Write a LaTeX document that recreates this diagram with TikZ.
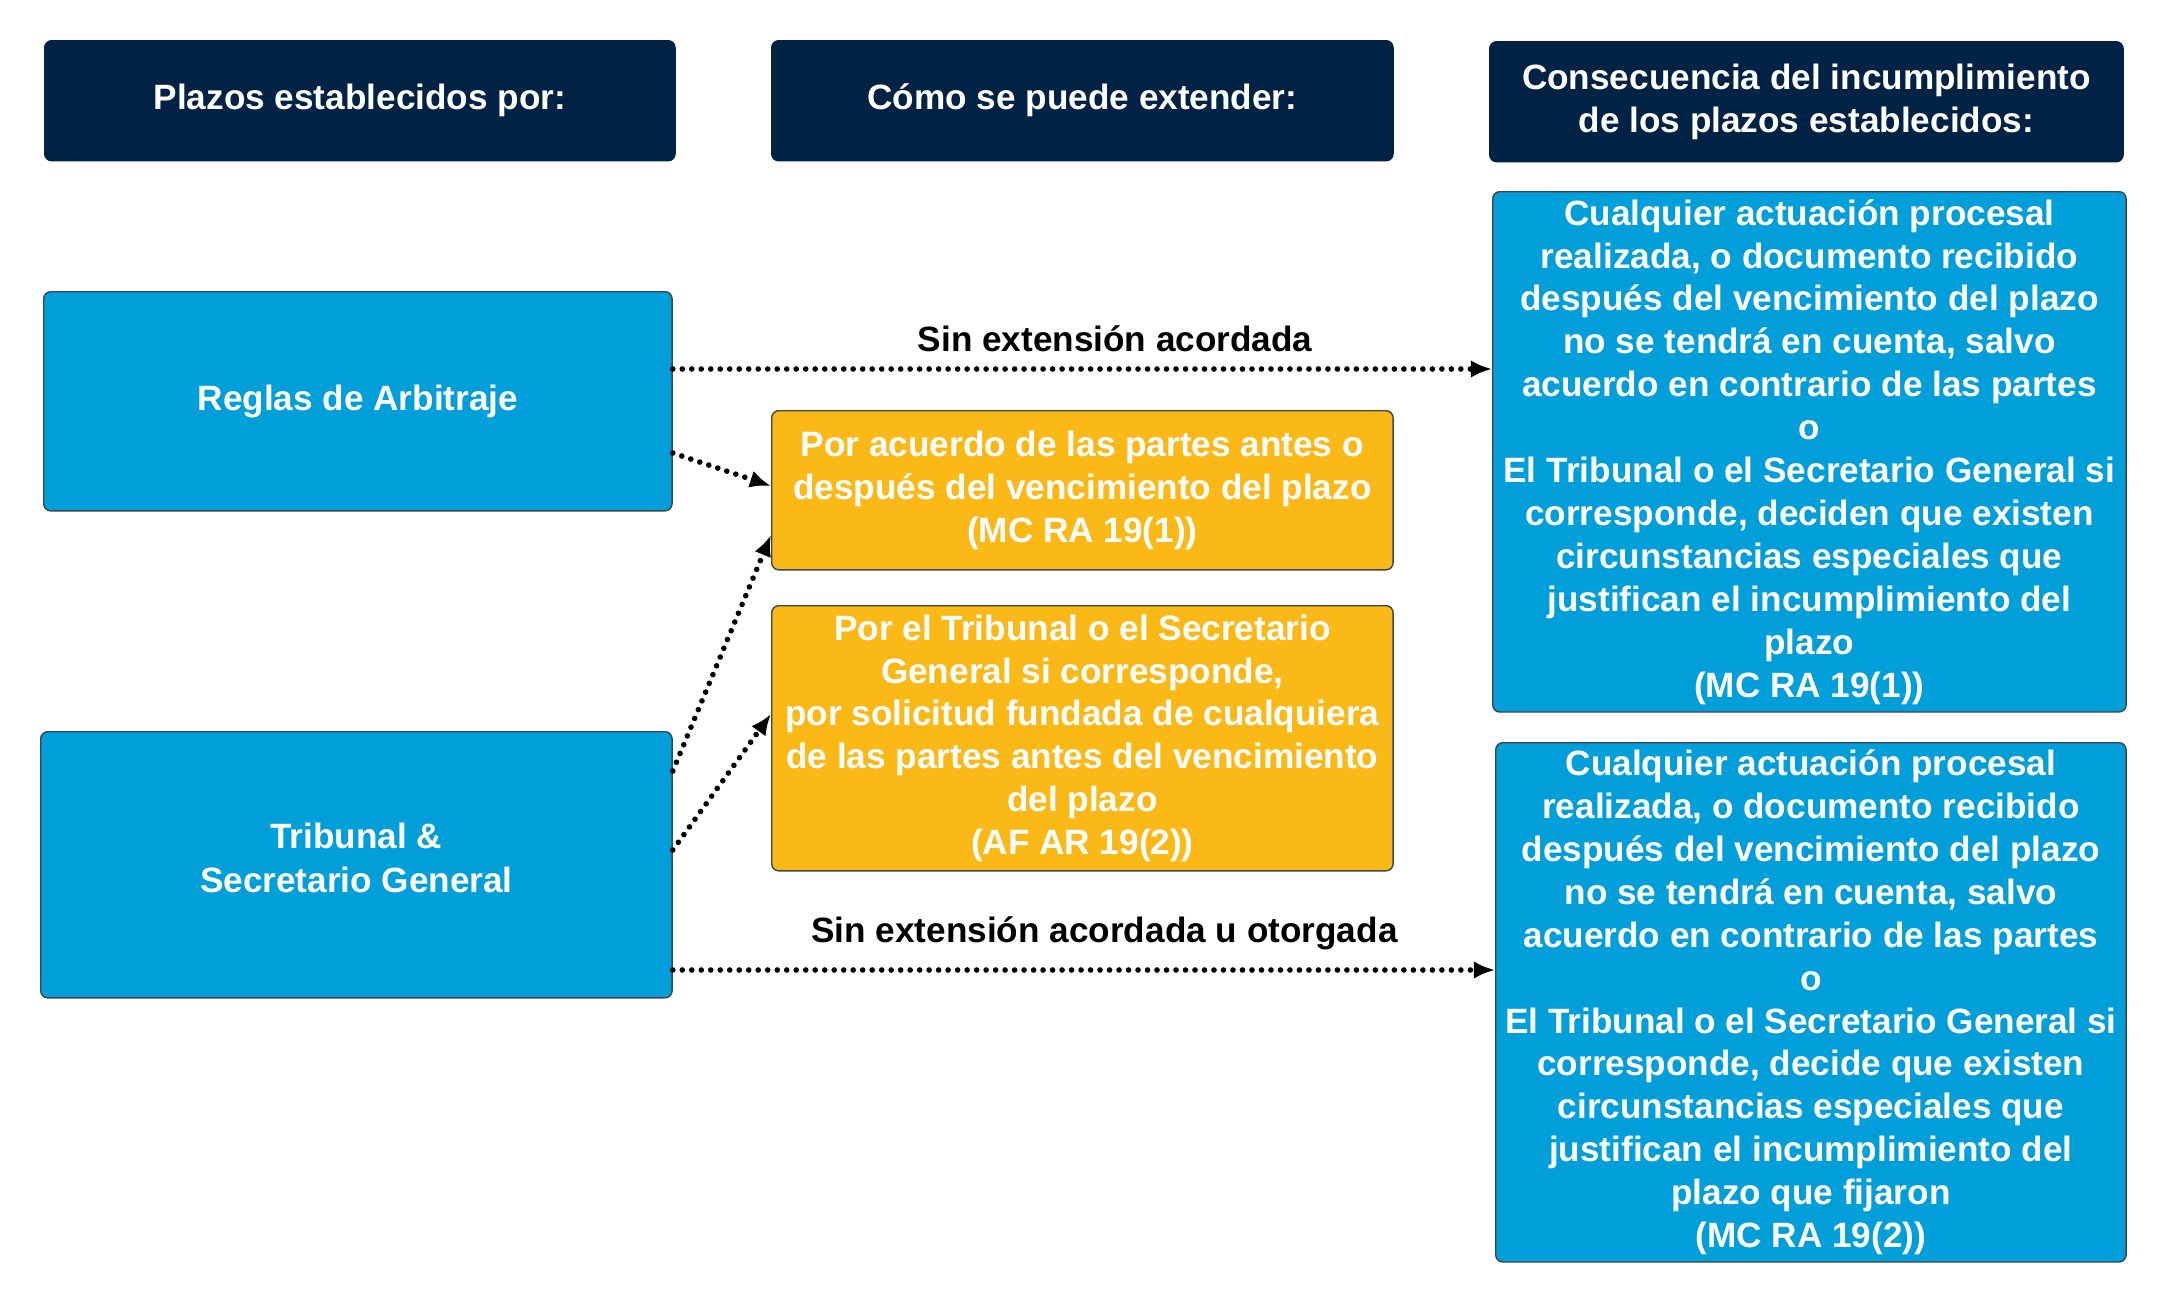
\documentclass[tikz,border=0pt]{standalone}
\usepackage{fontspec}
\setmainfont{Liberation Sans}
\usetikzlibrary{arrows.meta,calc}
\definecolor{navy}{RGB}{0,34,68}
\definecolor{skyblue}{RGB}{0,159,218}
\definecolor{amber}{RGB}{251,185,23}
\definecolor{edge}{RGB}{60,70,80}

\begin{document}
\begin{tikzpicture}[x=0.01cm,y=-0.01cm,font=\bfseries\fontsize{10}{12.2}\selectfont,>=Latex]
\tikzset{box/.style={rounded corners=2pt,draw=edge,line width=0.4pt,text=white,align=center,anchor=north west,inner sep=2pt}, head/.style={box,fill=navy,draw=navy,minimum height=1.20cm}, blue/.style={box,fill=skyblue}, gold/.style={box,fill=amber}, link/.style={line width=1.6pt,line cap=round,dash pattern=on 0pt off 2.7pt,-{Latex[length=6pt,width=5pt]}}, lbl/.style={font=\bfseries\fontsize{10}{12.2}\selectfont,text=black,inner sep=1pt}}
\useasboundingbox (0,0) rectangle (2166,1303);
% Column headings
\node[head,minimum width=6.30cm] (hdrplazos) at (44,40) {Plazos establecidos por:};
\node[head,minimum width=6.21cm] (hdrext) at (771,40) {Cómo se puede extender:};
\node[head,minimum width=6.33cm] (hdrcons) at (1489,41) {Consecuencia del incumplimiento\\de los plazos establecidos:};
% Sources of the deadlines
\node[blue,minimum width=6.28cm,minimum height=2.19cm] (reglas) at (43,291) {Reglas de Arbitraje};
\node[blue,minimum width=6.31cm,minimum height=2.66cm] (tribunal) at (40,731) {\raisebox{4pt}{\shortstack{Tribunal \&\\[2.2pt]Secretario General}}};
% Ways to extend
\node[gold,minimum width=6.21cm,minimum height=1.59cm] (acuerdo) at (771,410) {Por acuerdo de las partes antes o\\después del vencimiento del plazo\\(MC RA 19(1))};
\node[gold,minimum width=6.21cm,minimum height=2.65cm] (solicitud) at (771,605) {Por el Tribunal o el Secretario\\General si corresponde,\\por solicitud fundada de cualquiera\\de las partes antes del vencimiento\\del plazo\\(AF AR 19(2))};
% Consequences
\node[blue,minimum width=6.33cm,minimum height=5.20cm] (consuno) at (1492,191) {Cualquier actuación procesal\\realizada, o documento recibido\\después del vencimiento del plazo\\no se tendrá en cuenta, salvo\\acuerdo en contrario de las partes\\o\\El Tribunal o el Secretario General si\\corresponde, deciden que existen\\circunstancias especiales que\\justifican el incumplimiento del\\plazo\\(MC RA 19(1))};
\node[blue,minimum width=6.30cm,minimum height=5.19cm] (consdos) at (1495,742) {Cualquier actuación procesal\\realizada, o documento recibido\\después del vencimiento del plazo\\no se tendrá en cuenta, salvo\\acuerdo en contrario de las partes\\o\\El Tribunal o el Secretario General si\\corresponde, decide que existen\\circunstancias especiales que\\justifican el incumplimiento del\\plazo que fijaron\\(MC RA 19(2))};
% Dotted connectors
\draw[link] ($(reglas.north east)+(0,78)$) -- node[lbl,above=3pt,pos=0.54] (sinext) {Sin extensión acordada} ($(consuno.north west)+(0,178)$);
\draw[link] ($(reglas.north east)+(0,162)$) -- ($(acuerdo.north west)+(0,76)$);
\draw[link] ($(tribunal.north east)+(0,40)$) -- ($(acuerdo.north west)+(0,125)$);
\draw[link] ($(tribunal.north east)+(0,119)$) -- ($(solicitud.north west)+(0,109)$);
\draw[link] ($(tribunal.north east)+(0,239)$) -- node[lbl,above=4pt,pos=0.525] (sinotorg) {Sin extensión acordada u otorgada} ($(consdos.north west)+(0,228)$);
\end{tikzpicture}
\end{document}
